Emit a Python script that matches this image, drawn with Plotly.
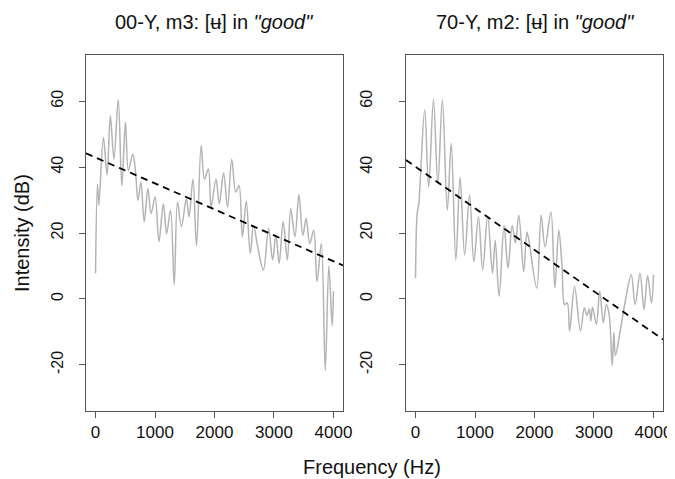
import plotly.graph_objects as go

# ---- data ----
freq_00y = [0, 33, 55, 133, 194, 249, 310, 382, 443, 503, 553, 626, 669, 714, 763, 818, 880, 934,
            1001, 1067, 1140, 1195, 1261, 1323, 1378, 1444, 1527, 1572, 1638, 1698, 1776, 1831,
            1897, 1942, 2025, 2080, 2153, 2219, 2290, 2357, 2412, 2468, 2534, 2601, 2656, 2727,
            2822, 2910, 2976, 3032, 3087, 3154, 3225, 3281, 3353, 3419, 3485, 3540, 3602, 3668,
            3723, 3796, 3862, 3922, 3978, 4000]
db_00y = [7.8, 34.9, 28.4, 49.0, 37.6, 55.6, 42.4, 60.5, 34.3, 53.6, 38.9, 44.0, 39.4, 29.9, 35.5,
          23.4, 33.4, 25.9, 30.9, 17.4, 28.9, 19.8, 26.9, 4.3, 29.4, 21.9, 30.4, 24.9, 36.4, 16.1,
          46.6, 36.4, 39.4, 27.9, 36.4, 28.9, 38.2, 27.9, 42.4, 32.4, 34.4, 18.9, 29.6, 13.8, 22.3,
          15.8, 8.8, 21.4, 11.8, 19.3, 10.8, 23.4, 11.8, 27.4, 18.9, 31.6, 19.3, 24.4, 16.8, 20.8,
          5.3, 16.8, -21.7, 10.1, -8.2, 2.3]

freq_70y = [0, 28, 55, 154, 220, 302, 375, 451, 534, 600, 678, 749, 826, 909, 980, 1058, 1129,
            1212, 1294, 1339, 1405, 1488, 1554, 1625, 1678, 1736, 1818, 1873, 1901, 2038, 2111,
            2177, 2276, 2342, 2408, 2463, 2507, 2550, 2590, 2673, 2772, 2838, 2881, 2921, 2947,
            2975, 3041, 3096, 3157, 3207, 3256, 3306, 3334, 3360, 3438, 3526, 3626, 3692, 3774,
            3840, 3901, 3967, 4000]
db_70y = [6.3, 25.9, 28.9, 57.4, 33.9, 60.6, 34.9, 60.5, 26.9, 47.2, 11.8, 36.9, 13.3, 31.6, 11.3,
          24.9, 8.8, 24.9, 7.8, 17.8, 0.8, 22.3, 9.3, 22.3, 17.0, 25.4, 8.3, 20.3, 18.3, 3.3, 25.4,
          15.8, 26.4, 3.3, 20.8, 10.0, -1.7, -1.2, -9.7, 3.8, -9.7, -2.7, -5.0, -3.0, -6.7, -2.5,
          -7.7, 2.3, -7.2, -1.7, -5.0, -20.2, -10.2, -17.2, -10.0, -0.7, 7.3, -1.7, 7.8, -3.2, 7.0,
          -1.2, 7.3]

# regression line coefficients (intercept dB, slope dB/Hz)
fit_00y = (42.9, -0.00787)
fit_70y = (40.1, -0.0126)

titles = ['00-Y, m3: [ʉ] in <i>"good"</i>', '70-Y, m2: [ʉ] in <i>"good"</i>']
x_ticks = [0, 1000, 2000, 3000, 4000]
x_ticktext = ["0", "1000", "2000", "3000", "4000"]
y_ticks = [-20, 0, 20, 40, 60]
y_ticktext = ["-20", "0", "20", "40", "60"]
x_range = [-160, 4160]
y_range = [-34, 74]

FONT = "Liberation Sans, Arial, Helvetica, sans-serif"

fig = go.Figure()
panels = [(freq_00y, db_00y, fit_00y, "x", "y"), (freq_70y, db_70y, fit_70y, "x2", "y2")]
for f, d, (b0, b1), xa, ya in panels:
    fig.add_trace(go.Scatter(x=f, y=d, mode="lines", xaxis=xa, yaxis=ya,
                             line=dict(color="#b4b4b4", width=1.5, shape="spline", smoothing=1.0),
                             showlegend=False))
    fig.add_trace(go.Scatter(x=x_range, y=[b0 + b1 * x_range[0], b0 + b1 * x_range[1]],
                             mode="lines", xaxis=xa, yaxis=ya,
                             line=dict(color="black", width=1.8, dash="7px,5px"),
                             showlegend=False))

axcommon = dict(showline=True, mirror=True, linecolor="#555555", linewidth=1,
                ticks="outside", ticklen=6, tickcolor="#555555", showgrid=False,
                zeroline=False)
xfont = dict(family=FONT, size=17, color="#111111")
yfont = dict(family=FONT, size=16, color="#111111")

fig.update_layout(
    width=675, height=479,
    paper_bgcolor="white", plot_bgcolor="white",
    margin=dict(l=78, r=11, t=47, b=76),
    xaxis=dict(domain=[0, 0.4454], range=x_range, tickvals=x_ticks, ticktext=x_ticktext,
               anchor="y", tickfont=xfont, **axcommon),
    yaxis=dict(domain=[0, 1], range=y_range, tickvals=y_ticks, ticktext=y_ticktext,
               tickangle=-90, anchor="x", ticklabelstandoff=10, tickfont=yfont, **axcommon),
    xaxis2=dict(domain=[0.5546, 1], range=x_range, tickvals=x_ticks, ticktext=x_ticktext,
                anchor="y2", tickfont=xfont, **axcommon),
    yaxis2=dict(domain=[0, 1], range=y_range, tickvals=y_ticks, ticktext=y_ticktext,
                tickangle=-90, anchor="x2", ticklabelstandoff=21, tickfont=yfont, **axcommon),
    annotations=[
        dict(text=titles[0], x=0.2227, y=1, xref="paper", yref="paper", yshift=33,
             xanchor="center", yanchor="middle",
             showarrow=False, font=dict(family=FONT, size=20, color="#111111")),
        dict(text=titles[1], x=0.7773, y=1, xref="paper", yref="paper", yshift=33,
             xanchor="center", yanchor="middle",
             showarrow=False, font=dict(family=FONT, size=20, color="#111111")),
        dict(text="Intensity (dB)", x=0, y=0.5, xref="paper", yref="paper", xshift=-64,
             xanchor="center", yanchor="middle",
             textangle=-90, showarrow=False, font=dict(family=FONT, size=20, color="#111111")),
        dict(text="Frequency (Hz)", x=0.4949, y=0, xref="paper", yref="paper", yshift=-56,
             xanchor="center", yanchor="middle",
             showarrow=False, font=dict(family=FONT, size=20, color="#111111")),
    ],
)

fig.write_html("out.html")
